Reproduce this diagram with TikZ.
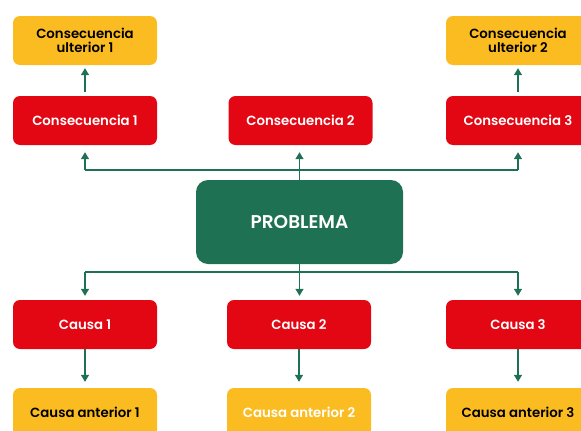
\documentclass[tikz,border=0pt]{standalone}
\usepackage{fontspec}
\setmainfont{Poppins}[BoldFont={* SemiBold}]
\usetikzlibrary{arrows.meta}
\definecolor{cyel}{HTML}{FBBC22}
\definecolor{cred}{HTML}{E30613}
\definecolor{cgrn}{HTML}{1E7152}
\begin{document}
\begin{tikzpicture}[x=1pt,y=-1pt,
  box/.style={rounded corners=7pt, minimum width=144pt, minimum height=49pt, inner sep=0pt, align=center, font=\fontsize{13.3}{14.5}\selectfont\bfseries},
  ybox/.style={box, fill=cyel, text=black},
  rbox/.style={box, fill=cred, text=white},
  pbox/.style={rounded corners=12pt, fill=cgrn, text=white, minimum width=207pt, minimum height=84pt, inner sep=0pt, font=\fontsize{18.5}{21}\selectfont\bfseries},
  conn/.style={cgrn, line width=1.3pt},
  arr/.style={conn, -{Triangle[width=8pt,length=7pt]}}]
\useasboundingbox (0,0) rectangle (581,431);
\clip (0,0) rectangle (581,431);
% top row
\node[ybox] (u1) at (85,40.5) {Consecuencia\\ulterior 1};
\node[ybox] (u2) at (518,40.5) {Consecuencia\\ulterior 2};
\node[rbox] (c1) at (85,120.5) {Consecuencia 1};
\node[rbox] (c2) at (300.5,120.5) {Consecuencia 2};
\node[rbox] (c3) at (518,120.5) {Consecuencia 3};
% problem
\node[pbox] (p) at (299.5,222) {PROBLEMA};
% causes
\node[rbox] (k1) at (85,324.5) {Causa 1};
\node[rbox] (k2) at (299,324.5) {Causa 2};
\node[rbox] (k3) at (518,324.5) {Causa 3};
\node[ybox] (a1) at (85,412.5) {Causa anterior 1};
\node[ybox, text=white] (a2) at (299,412.5) {Causa anterior 2};
\node[ybox] (a3) at (518,412.5) {Causa anterior 3};
% bus coordinates
\coordinate (tb1) at (85,170);
\coordinate (tb3) at (518,170);
\coordinate (bb1) at (85,272);
\coordinate (bb3) at (518,272);
% top connectors
\draw[conn] (tb1) -- (tb3);
\draw[conn] (p.north) -- (p.north |- tb1);
\draw[arr] (tb1) -- ([yshift=-7pt]c1.south);
\draw[arr] (p.north |- tb1) -- ([yshift=-7pt]c2.south -| p.north);
\draw[arr] (tb3) -- ([yshift=-7pt]c3.south);
\draw[arr] ([yshift=4pt]c1.north) -- ([yshift=-3pt]u1.south);
\draw[arr] ([yshift=4pt]c3.north) -- ([yshift=-3pt]u2.south);
% bottom connectors
\draw[conn] (bb1) -- (bb3);
\draw[conn] (p.south) -- (p.south |- bb1);
\draw[arr] (bb1) -- ([yshift=4pt]k1.north);
\draw[arr] (bb1 -| p.south) -- ([yshift=4pt]k2.north -| p.south);
\draw[arr] (bb3) -- ([yshift=4pt]k3.north);
\draw[arr] (k1.south) -- ([yshift=6pt]a1.north);
\draw[arr] (k2.south) -- ([yshift=6pt]a2.north);
\draw[arr] (k3.south) -- ([yshift=6pt]a3.north);
\end{tikzpicture}
\end{document}
